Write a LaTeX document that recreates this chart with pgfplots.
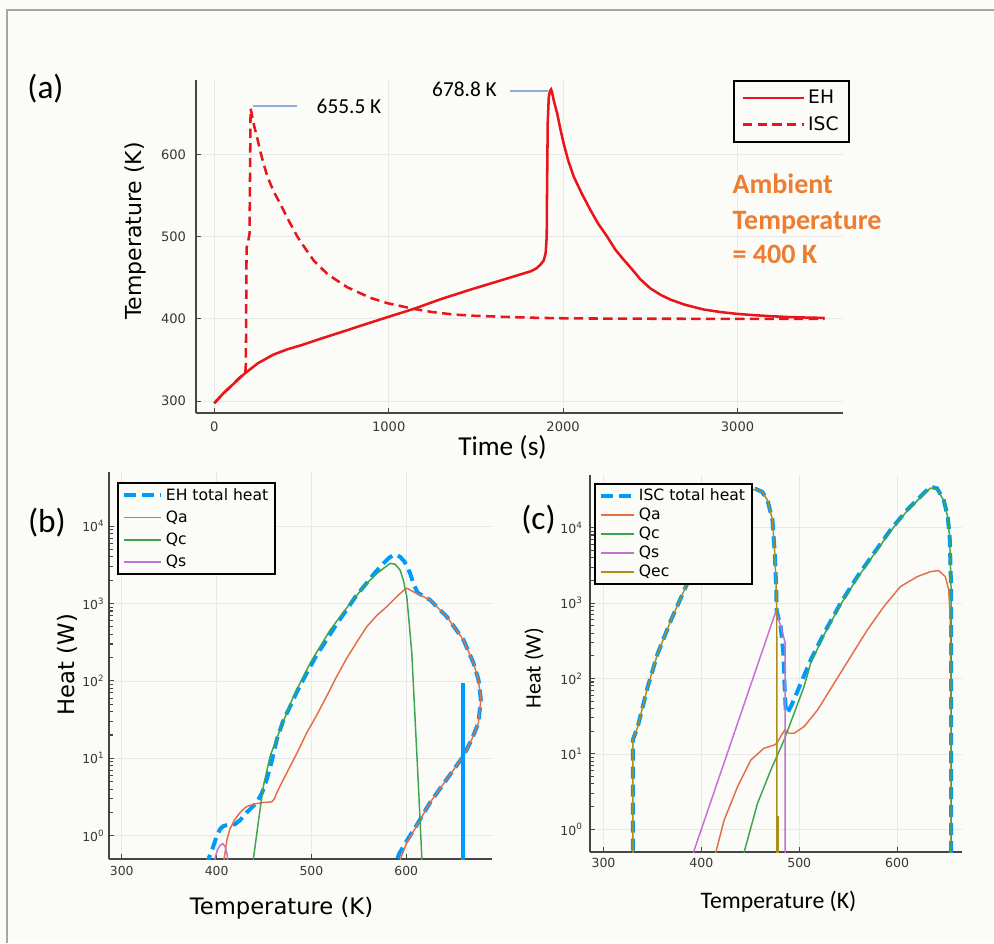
\documentclass[border=0pt]{standalone}
\usepackage{fontspec}
\setmainfont{DejaVu Sans}
\newfontfamily\carlito{Carlito}
\usepackage{pgfplots}
\pgfplotsset{compat=1.18}
\definecolor{bg}{RGB}{251,251,248}
\definecolor{framec}{RGB}{165,165,165}
\definecolor{jblue}{RGB}{0,154,250}
\definecolor{jorange}{RGB}{227,111,71}
\definecolor{jgreen}{RGB}{62,164,78}
\definecolor{jpurple}{RGB}{195,113,210}
\definecolor{jgold}{RGB}{172,142,24}
\definecolor{redline}{RGB}{232,22,27}
\definecolor{annot}{RGB}{143,170,220}
\definecolor{ambient}{RGB}{237,125,49}
\definecolor{gridc}{RGB}{232,232,232}
\definecolor{axisc}{RGB}{70,70,70}
\definecolor{tickc}{RGB}{55,55,55}
\pgfplotsset{
  jstyle/.style={
    scale only axis, anchor=south west,
    axis x line*=bottom, axis y line*=left,
    axis line style={axisc, line width=1.2pt, -},
    tick align=inside, major tick length=4pt,
    tick style={axisc, line width=0.8pt},
    grid=major, grid style={gridc, line width=0.6pt},
    /pgf/number format/assume math mode=true,
    /pgf/number format/1000 sep={},
    legend cell align=left,
  },
}
\begin{document}
\begin{tikzpicture}
\useasboundingbox (0,0) rectangle (745.5pt,-707.25pt);
\begin{scope}[x=0.75pt,y=-0.75pt]
\fill[bg] (0,0) rectangle (994,943);
\draw[framec, line width=1.8pt] (7,943) -- (7,10) -- (994,10);
\coordinate (SWa) at (196,413);
\coordinate (SWb) at (109,859);
\coordinate (SWc) at (590,852);
\end{scope}

% ---------------- panel (a)
\begin{axis}[jstyle, at={(SWa)},
  width=485.25pt, height=249.75pt,
  xmin=-105, xmax=3605, ymin=285.5, ymax=690.3,
  xtick={0,1000,2000,3000}, ytick={300,400,500,600},
  ticklabel style={font=\fontsize{9.8}{11}\selectfont, text=tickc},
  xticklabel style={yshift=-3.4pt}, yticklabel style={xshift=-4pt},
  legend style={at={(1.011,1)}, anchor=north east, draw=black, line width=1.3pt,
    fill=bg, font=\fontsize{14}{16}\selectfont, inner xsep=6pt, inner ysep=5pt, row sep=4pt},
  legend image code/.code={\draw[#1] (0pt,0pt) -- (46pt,0pt);},
]
\addplot[redline, line width=1.9pt] coordinates {
(0,297.5)(50,309)(100,319)(174,333.5)(250,346)(338,356.4)(420,363)(500,368)(620,376.5)(738,384.5)(860,393)(1000,402.5)(1144,412.1)(1300,424)(1469,435.5)(1640,446.5)(1813,457.7)(1845,461)(1870,465.8)(1889,471)(1900,480)(1906,500)(1908,560)(1912,640)(1918,670)(1925,677)(1931,678.8)(1937,675)(1946,665.8)(1966,649.7)(1985,630)(2003,613.3)(2030,592)(2061,572.8)(2110,551)(2156,532.5)(2200,516)(2252,500.1)(2300,484)(2347,471.9)(2400,459)(2443,448)(2500,437)(2560,429)(2615,423.4)(2700,417)(2806,411.3)(2900,408.3)(2997,406)(3100,404.4)(3188,403.2)(3300,402.1)(3400,401.5)(3500,401.1)
};
\addlegendentry{EH}
\addplot[redline, line width=1.9pt, dash pattern=on 7pt off 4pt] coordinates {
(0,297.5)(50,309)(100,319)(150,329.5)(178,334.5)(181,345)(183,420)(185,486)(195,495)(202,504)(205,580)(208,655.5)(212,652)(220,643)(230,633)(246,620)(262,605)(280,590.5)(304,573)(340,555)(380,539)(430,518)(476,500)(520,486)(571,470.5)(650,454.1)(762,438.4)(896,425.4)(1000,418.6)(1144,412.1)(1250,408.2)(1373,405.2)(1500,403.6)(1660,402.4)(1850,401.2)(2042,400.5)(2500,400.1)(3000,400)(3500,400)
};
\addlegendentry{ISC}
\end{axis}

% ---------------- panel (b)
\begin{axis}[jstyle, at={(SWb)},
  width=287.25pt, height=290.25pt,
  xmin=286.5, xmax=690.5,
  ymode=log, ymin=0.5, ymax=50000,
  ytick={1,10,100,1000,10000},
  yticklabels={10\textsuperscript{0},10\textsuperscript{1},10\textsuperscript{2},10\textsuperscript{3},10\textsuperscript{4}},
  xtick={300,400,500,600},
  ticklabel style={font=\fontsize{9.3}{11}\selectfont, text=tickc},
  xticklabel style={yshift=-2pt},
  legend style={at={(0.021,0.974)}, anchor=north west, draw=black, line width=1.3pt,
    fill=bg, font=\fontsize{11.7}{13}\selectfont, inner xsep=3pt, inner ysep=2pt, row sep=2.5pt},
  legend image code/.code={\draw[#1] (0pt,0pt) -- (28pt,0pt);},
]
\addplot[jblue, line width=3pt, dash pattern=on 9pt off 4.5pt] coordinates {
(390,0.4)(392,0.52)(394.5,0.62)(396.7,0.74)(400,0.98)(403.7,1.22)(407,1.33)(411,1.37)(419.5,1.41)(425,1.6)(431.9,2.0)(437,2.3)(442.4,2.69)(448,3.6)(453,5.4)(458,9)(463.5,17.5)(470,30)(477.6,47)(486,78)(495,126)(505,210)(516,340)(526,530)(537,826)(547,1250)(558,1820)(567,2500)(576,3300)(582,3900)(586.6,4220)(590,4250)(593.6,4000)(598,3500)(601,3000)(604.1,2450)(607.7,1800)(612,1380)(625.2,1112)(642.8,677)(660.4,339)(670.9,171)(676.2,104)(678.7,57.5)(676.2,28.8)(669.2,17.6)(660.4,10.7)(642.8,5.37)(625.2,2.69)(611.2,1.38)(600.6,0.86)(593,0.6)(588,0.42)
};
\addlegendentry{EH total heat}
\addplot[jorange, line width=1.1pt] coordinates {
(406,0.3)(408,0.51)(411,0.9)(414,1.22)(419,1.6)(424.8,2.0)(431,2.35)(438.9,2.56)(449.4,2.69)(458.2,2.74)(461,3.0)(463.5,3.6)(470,5.2)(477.6,7.9)(486,12.5)(495.1,21.4)(505,35)(516,63)(526,110)(537.3,197)(548,320)(558.4,502)(569,700)(579.5,912)(587,1130)(593.6,1350)(598,1500)(601,1574)(606,1450)(612,1330)(625.2,1112)(642.8,677)(660.4,339)(670.9,171)(676.2,104)(678.7,57.5)(676.2,28.8)(669.2,17.6)(660.4,10.7)(642.8,5.37)(625.2,2.69)(611.2,1.35)(600.6,0.82)(594,0.5)(592,0.4)
};
\addlegendentry{Qa}
\addplot[jgreen, line width=1.1pt] coordinates {
(438.5,0.3)(438.9,0.51)(444,1.5)(449.4,4.4)(456.5,10.7)(467,23.6)(481,63)(498.7,170)(519.8,456)(540.9,1007)(558.4,1820)(570,2500)(576,2840)(583,3300)(588.3,3220)(593.6,2700)(597,2000)(600.6,1230)(603.5,500)(605.9,229)(609.4,31.7)(612.9,4.4)(616.5,0.51)(617,0.3)
};
\addlegendentry{Qc}
\addplot[jpurple, line width=1.1pt] coordinates {
(396,0.3)(398,0.5)(401,0.66)(404,0.76)(406.5,0.79)(409,0.72)(411,0.58)(412.5,0.4)
};
\addlegendentry{Qs}
\addplot[jblue, line width=3pt, forget plot] coordinates {(660.4,0.3)(660.4,94)};
\end{axis}

% ---------------- panel (c)
\begin{axis}[jstyle, at={(SWc)},
  width=279pt, height=282.75pt,
  xmin=286.2, xmax=666.3,
  ymode=log, ymin=0.5, ymax=50000,
  ytick={1,10,100,1000,10000},
  yticklabels={10\textsuperscript{0},10\textsuperscript{1},10\textsuperscript{2},10\textsuperscript{3},10\textsuperscript{4}},
  xtick={300,400,500,600},
  ticklabel style={font=\fontsize{9.4}{11}\selectfont, text=tickc},
  xticklabel style={yshift=-1.2pt}, yticklabel style={xshift=-2pt},
  legend style={at={(0.011,0.979)}, anchor=north west, draw=black, line width=1.3pt,
    fill=bg, font=\fontsize{11.7}{13}\selectfont, inner xsep=3pt, inner ysep=2pt},
  legend image code/.code={\draw[#1] (0pt,0pt) -- (25pt,0pt);},
]
\addplot[jblue, line width=3pt, dash pattern=on 9pt off 4.5pt] coordinates {
(329.9,0.3)(329.9,15.3)(335,23)(345.2,78)(355.4,216)(369,597)(382.6,1493)(396.2,3720)(410,8000)(423,14500)(436,22000)(447.5,30000)(455.6,32600)(462,30000)(467.5,23300)(472.6,12700)(475,4570)(476.4,1660)(477,771)(479,620)(481,490)(483.8,215)(485,80)(486.2,38.3)(487.9,34.6)(493,47)(501.5,86)(511.7,176)(525.3,398)(542.3,1000)(559.3,2240)(576.2,4580)(593.2,9340)(610.2,17200)(627.2,28600)(634,35000)(640.8,33300)(647.6,23300)(651.7,14000)(653.7,7600)(655.1,1660)(655.2,200)(655.2,0.3)
};
\addlegendentry{ISC total heat}
\addplot[jorange, line width=1.1pt] coordinates {
(414,0.3)(414.8,0.5)(423.3,1.33)(437,3.68)(450.5,8.3)(464,11.9)(474.3,13.1)(477,13.8)(481,17)(485.2,20.8)(489.6,18.8)(494.7,18.8)(504.9,23)(518.5,38)(535.5,86)(552.5,195)(569.5,440)(586.4,900)(603.4,1660)(620.4,2240)(634,2610)(642.5,2700)(649.3,2240)(652.7,1490)(654.4,600)(655.1,30)(655.2,0.3)
};
\addlegendentry{Qa}
\addplot[jgreen, line width=1.1pt] coordinates {
(443,0.3)(443.7,0.5)(457.3,2.2)(470.9,6.1)(484.5,15.3)(494.7,34.5)(504.9,78)(511.7,160)(525.3,380)(542.3,960)(559.3,2150)(576.2,4400)(593.2,9000)(610.2,16700)(627.2,27800)(634,33500)(640.8,32500)(647.6,23000)(651.7,13700)(653.7,7400)(655.1,1600)(655.2,200)(655.2,0.3)
};
\addlegendentry{Qc}
\addplot[jpurple, line width=1.1pt] coordinates {
(391,0.3)(392,0.5)(476,770)(478.5,640)(481,490)(484,357)(485.5,300)(485.6,0.3)
};
\addlegendentry{Qs}
\addplot[jgold, line width=1.1pt] coordinates {
(329.9,0.3)(329.9,15.3)(335,23)(345.2,78)(355.4,216)(369,597)(382.6,1493)(396.2,3720)(410,8000)(423,14500)(436,22000)(447.5,30000)(455.6,32600)(462,30000)(467.5,23300)(472.6,12700)(475,4570)(476.4,1660)(477,700)(477.2,0.3)(478.2,0.3)(478.4,1.5)(478.6,0.3)
};
\addlegendentry{Qec}
\end{axis}

% ---------------- texts
\begin{scope}[x=0.75pt,y=-0.75pt]
\draw[annot, line width=1.1pt] (253,106) -- (297,106);
\draw[annot, line width=1.1pt] (510,91) -- (548,91);
\node[font=\carlito\fontsize{16}{18}\selectfont] at (349,106) {655.5 K};
\node[font=\carlito\fontsize{16}{18}\selectfont] at (464.5,89) {678.8 K};
\node[font=\carlito\bfseries\fontsize{21}{24}\selectfont, text=ambient, anchor=base west] at (728,193) {Ambient};
\node[font=\carlito\bfseries\fontsize{21}{24}\selectfont, text=ambient, anchor=base west] at (728,229) {Temperature};
\node[font=\carlito\bfseries\fontsize{21}{24}\selectfont, text=ambient, anchor=base west] at (728,263) {= 400 K};
\node[font=\carlito\fontsize{25}{28}\selectfont] at (45.5,89) {(a)};
\node[font=\carlito\fontsize{25}{28}\selectfont] at (47,523) {(b)};
\node[font=\carlito\fontsize{25}{28}\selectfont] at (538.5,520) {(c)};
\node[font=\fontsize{16.5}{18}\selectfont, rotate=90] at (135,231) {Temperature (K)};
\node[font=\carlito\fontsize{20.5}{23}\selectfont] at (502.5,447) {Time (s)};
\node[font=\fontsize{17}{19}\selectfont, rotate=90] at (67,664.5) {Heat (W)};
\node[font=\fontsize{17}{19}\selectfont] at (281.5,908) {Temperature (K)};
\node[font=\carlito\fontsize{16.5}{19}\selectfont, rotate=90] at (534,668) {Heat (W)};
\node[font=\carlito\fontsize{17.8}{20}\selectfont] at (778.5,902) {Temperature (K)};
\end{scope}
\end{tikzpicture}
\end{document}
